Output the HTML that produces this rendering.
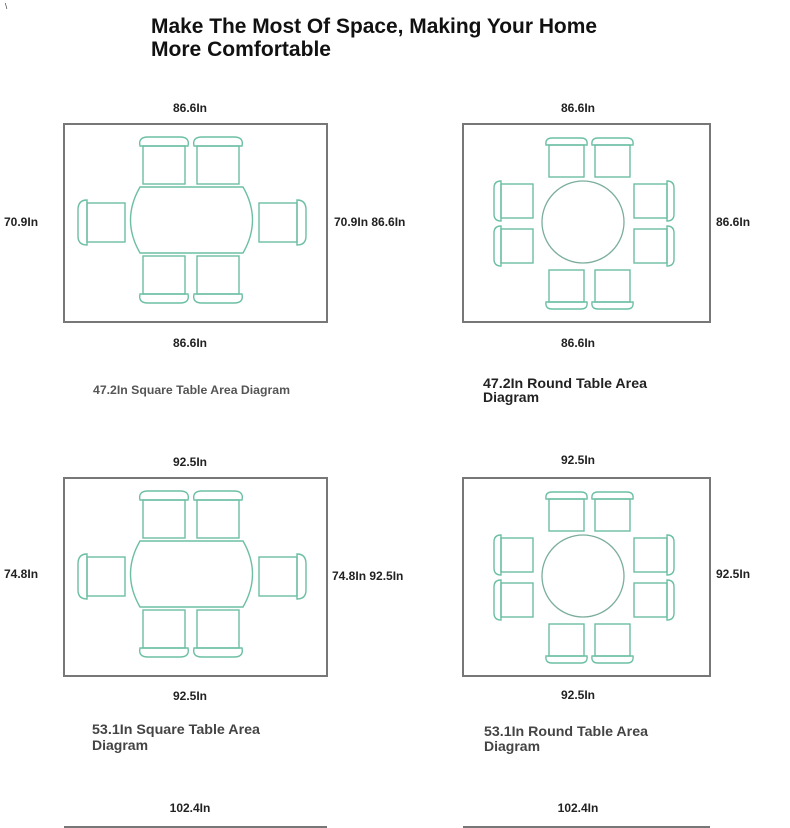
<!DOCTYPE html>
<html><head><meta charset="utf-8"><style>
html,body{margin:0;padding:0;background:#fff;width:790px;height:828px;overflow:hidden}
svg{display:block}
text{font-family:"Liberation Sans",sans-serif}
.d{font-size:12px;font-weight:bold;fill:#222}
.c{stroke:#6cbfa4;stroke-width:1.4;fill:none}
.f{stroke:#777;stroke-width:2;fill:none}
.t{stroke:#7cae9c;stroke-width:1.3;fill:none}
</style></head><body>
<svg width="790" height="828" viewBox="0 0 790 828" xmlns="http://www.w3.org/2000/svg">
<defs>
<g id="sq">
  <rect class="f" x="64" y="124" width="263" height="198"/>
  <rect class="c" x="143" y="146" width="42" height="38"/>
  <rect class="c" x="197" y="146" width="42" height="38"/>
  <path class="c" d="M140 146 Q138 137 148 137 H180 Q190 137 188 146 Z"/>
  <path class="c" d="M194 146 Q192 137 202 137 H234 Q244 137 242 146 Z"/>
  <path class="c" d="M140 187 H243 Q262 220 243 253 H140 Q121 220 140 187 Z"/>
  <rect class="c" x="87" y="203" width="38" height="39"/>
  <path class="c" d="M87 200 Q78 200 78 210 V236 Q78 245 87 245 Z"/>
  <rect class="c" x="259" y="203" width="38" height="39"/>
  <path class="c" d="M297 200 Q306 200 306 210 V236 Q306 245 297 245 Z"/>
  <rect class="c" x="143" y="256" width="42" height="38"/>
  <rect class="c" x="197" y="256" width="42" height="38"/>
  <path class="c" d="M140 294 Q138 303 148 303 H180 Q190 303 188 294 Z"/>
  <path class="c" d="M194 294 Q192 303 202 303 H234 Q244 303 242 294 Z"/>
</g>
<g id="rd">
  <rect class="f" x="463" y="124" width="247" height="198"/>
  <circle class="t" cx="583" cy="222" r="41"/>
  <rect class="c" x="549" y="145" width="35" height="32"/>
  <rect class="c" x="595" y="145" width="35" height="32"/>
  <path class="c" d="M546 145 Q545 138 552 138 H581 Q588 138 587 145 Z"/>
  <path class="c" d="M592 145 Q591 138 598 138 H627 Q634 138 633 145 Z"/>
  <rect class="c" x="501" y="184" width="32" height="34"/>
  <rect class="c" x="501" y="229" width="32" height="34"/>
  <path class="c" d="M501 181 Q494 181 494 188 V214 Q494 221 501 221 Z"/>
  <path class="c" d="M501 226 Q494 226 494 233 V259 Q494 266 501 266 Z"/>
  <rect class="c" x="634" y="184" width="33" height="34"/>
  <rect class="c" x="634" y="229" width="33" height="34"/>
  <path class="c" d="M667 181 Q674 181 674 188 V214 Q674 221 667 221 Z"/>
  <path class="c" d="M667 226 Q674 226 674 233 V259 Q674 266 667 266 Z"/>
  <rect class="c" x="549" y="270" width="35" height="32"/>
  <rect class="c" x="595" y="270" width="35" height="32"/>
  <path class="c" d="M546 302 Q545 309 552 309 H581 Q588 309 587 302 Z"/>
  <path class="c" d="M592 302 Q591 309 598 309 H627 Q634 309 633 302 Z"/>
</g>
</defs>
<text x="5" y="9" font-size="8" fill="#333">\</text>
<text x="151" y="33" font-size="21" font-weight="bold" fill="#111" textLength="446" lengthAdjust="spacingAndGlyphs">Make The Most Of Space, Making Your Home</text>
<text x="151" y="56" font-size="21" font-weight="bold" fill="#111" textLength="180" lengthAdjust="spacingAndGlyphs">More Comfortable</text>

<use href="#sq"/>
<use href="#rd"/>
<text class="d" x="190" y="112" text-anchor="middle">86.6In</text>
<text class="d" x="4" y="226">70.9In</text>
<text class="d" x="334" y="226">70.9In 86.6In</text>
<text class="d" x="190" y="347" text-anchor="middle">86.6In</text>
<text class="d" x="578" y="112" text-anchor="middle">86.6In</text>
<text class="d" x="716" y="226">86.6In</text>
<text class="d" x="578" y="347" text-anchor="middle">86.6In</text>
<text x="93" y="394" font-size="12" font-weight="bold" fill="#555" textLength="197" lengthAdjust="spacingAndGlyphs">47.2In Square Table Area Diagram</text>
<text x="483" y="388" font-size="14" font-weight="bold" fill="#222" textLength="164" lengthAdjust="spacingAndGlyphs">47.2In Round Table Area</text>
<text x="483" y="402" font-size="14" font-weight="bold" fill="#222">Diagram</text>

<use href="#sq" transform="translate(0,354)"/>
<use href="#rd" transform="translate(0,354)"/>
<text class="d" x="190" y="466" text-anchor="middle">92.5In</text>
<text class="d" x="4" y="578">74.8In</text>
<text class="d" x="332" y="580">74.8In 92.5In</text>
<text class="d" x="190" y="700" text-anchor="middle">92.5In</text>
<text class="d" x="578" y="464" text-anchor="middle">92.5In</text>
<text class="d" x="716" y="578">92.5In</text>
<text class="d" x="578" y="699" text-anchor="middle">92.5In</text>
<text x="92" y="734" font-size="14" font-weight="bold" fill="#444" textLength="168" lengthAdjust="spacingAndGlyphs">53.1In Square Table Area</text>
<text x="92" y="750" font-size="14" font-weight="bold" fill="#444">Diagram</text>
<text x="484" y="736" font-size="14" font-weight="bold" fill="#444" textLength="164" lengthAdjust="spacingAndGlyphs">53.1In Round Table Area</text>
<text x="484" y="751" font-size="14" font-weight="bold" fill="#444">Diagram</text>

<text class="d" x="190" y="812" text-anchor="middle">102.4In</text>
<text class="d" x="578" y="812" text-anchor="middle">102.4In</text>
<line x1="64" y1="827" x2="327" y2="827" stroke="#777" stroke-width="2"/>
<line x1="463" y1="827" x2="710" y2="827" stroke="#777" stroke-width="2"/>
</svg>
</body></html>
